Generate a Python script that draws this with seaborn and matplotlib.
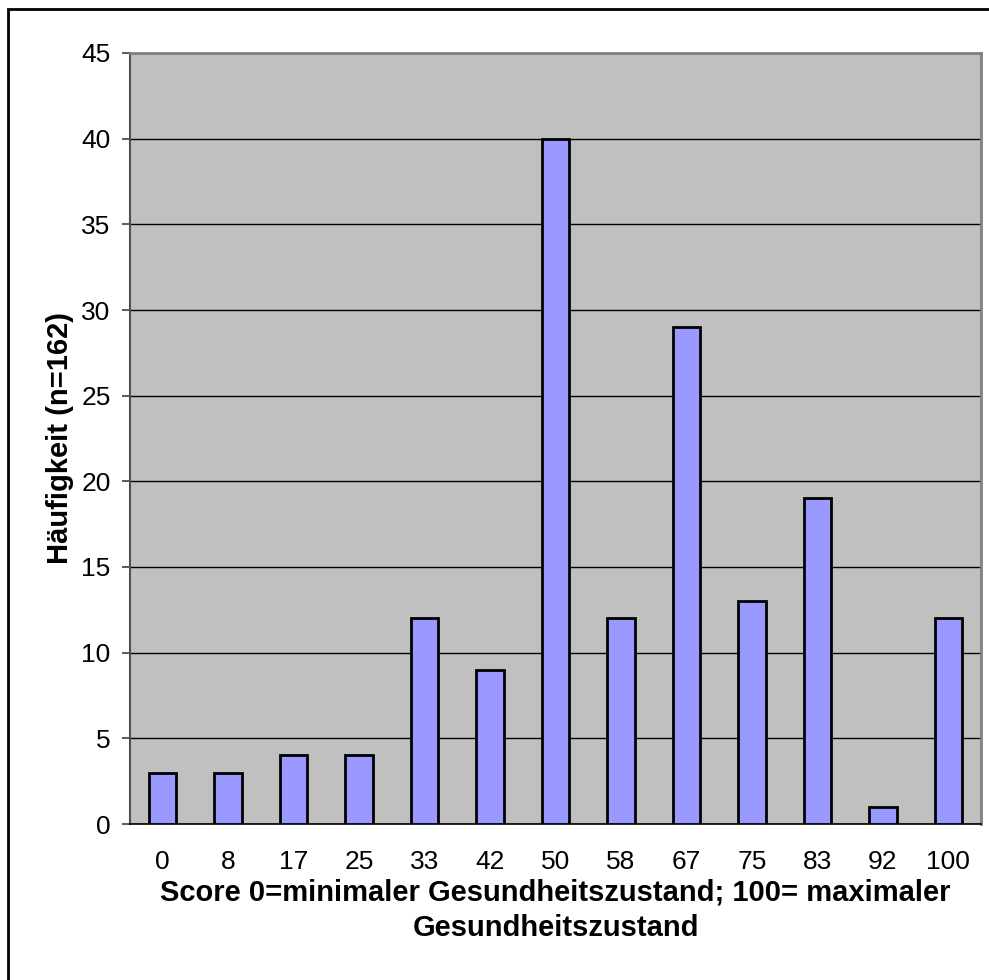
import matplotlib
matplotlib.use("Agg")
import matplotlib.pyplot as plt
import seaborn as sns
import pandas as pd
import numpy as np
from matplotlib.patches import Rectangle

# Score categories and their frequencies
scores = ["0", "8", "17", "25", "33", "42", "50", "58", "67", "75", "83", "92", "100"]
counts = [3, 3, 4, 4, 12, 9, 40, 12, 29, 13, 19, 1, 12]

y_ticks = [0, 5, 10, 15, 20, 25, 30, 35, 40, 45]
x_title = "Score 0=minimaler Gesundheitszustand; 100= maximaler\nGesundheitszustand"
y_title = "Häufigkeit (n=162)"

df = pd.DataFrame({"score": scores, "count": counts})

sns.set_theme(style="white")
plt.rcParams["font.family"] = ["Liberation Sans", "DejaVu Sans"]
plt.rcParams["text.color"] = "black"
plt.rcParams["axes.labelcolor"] = "black"

fig = plt.figure(figsize=(9.89, 9.80), dpi=100)
ax = fig.add_axes([130 / 989, 1 - 824 / 980, 851 / 989, 771 / 980])
ax.set_facecolor("#C0C0C0")

sns.barplot(data=df, x="score", y="count", order=scores, color="#9999FF",
            width=0.42, edgecolor="black", linewidth=2.0, saturation=1,
            ax=ax, zorder=3)

ax.set_ylim(0, 45)
ax.set_xlim(-0.5, len(scores) - 0.5)
ax.set_yticks(y_ticks)
ax.yaxis.grid(True, color="black", linewidth=1.0, zorder=1)
ax.set_axisbelow(True)

# category labels centred under bars, tick marks at category boundaries
ax.set_xticks(np.arange(len(scores)))
ax.set_xticklabels(scores)
ax.set_xticks(np.arange(len(scores) + 1) - 0.5, minor=True)
ax.tick_params(axis="x", which="major", length=0, pad=19, labelsize=19, labelcolor="black")
ax.tick_params(axis="x", which="minor", length=6, width=1.2, color="#404040", direction="out")
ax.tick_params(axis="y", which="major", length=6, width=1.2, color="#404040", pad=8,
               labelsize=19, labelcolor="black", direction="out", left=True)

for side in ["top", "right"]:
    ax.spines[side].set_color("#808080")
    ax.spines[side].set_linewidth(2.0)
ax.spines["left"].set_color("#505050")
ax.spines["left"].set_linewidth(1.5)
ax.spines["bottom"].set_color("black")
ax.spines["bottom"].set_linewidth(1.2)

ax.set_xlabel(x_title, fontsize=21, fontweight="bold", labelpad=3, linespacing=1.33)
ax.set_ylabel(y_title, fontsize=21, fontweight="bold", labelpad=5)

# outer chart frame
fig.patches.append(Rectangle((8 / 989, -0.1), 1.2, (1 - 9 / 980) + 0.1,
                             transform=fig.transFigure, fill=False,
                             edgecolor="black", linewidth=2.0))

fig.savefig("out.png", dpi=100)
